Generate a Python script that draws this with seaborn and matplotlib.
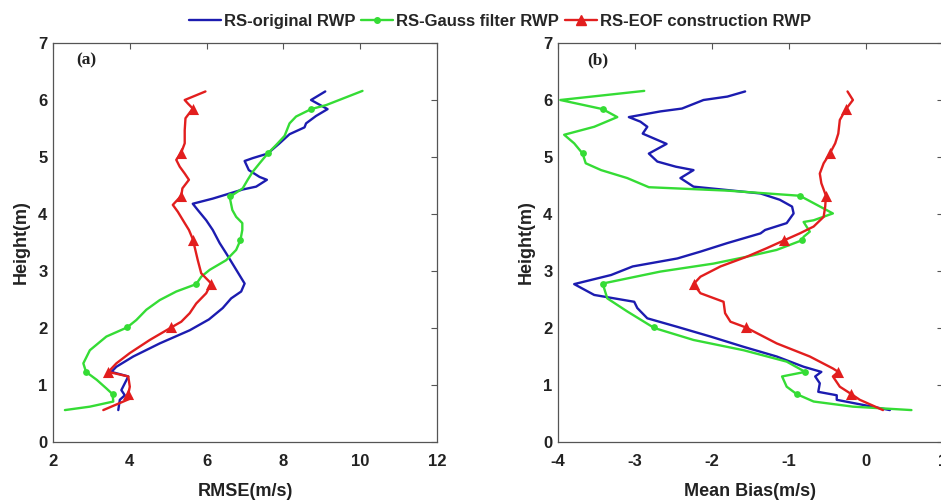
import matplotlib
matplotlib.use("Agg")
import matplotlib.pyplot as plt
from matplotlib.lines import Line2D
import seaborn as sns

# ---------------- data ----------------
# Panel (a): RMSE (m/s) vs height
h_orig_a = [6.15, 6.00, 5.84, 5.72, 5.59, 5.52, 5.40, 5.24, 5.06, 4.98, 4.93, 4.77, 4.65, 4.60,
            4.48, 4.43, 4.36, 4.27, 4.18, 4.07, 3.89, 3.72, 3.49, 3.31, 2.78, 2.64, 2.52, 2.35,
            2.15, 1.96, 1.73, 1.50, 1.32, 1.23, 1.15, 1.03, 0.91, 0.82, 0.74, 0.56]
rmse_orig = [9.09, 8.72, 9.15, 8.85, 8.59, 8.55, 8.16, 7.90, 7.59, 7.20, 6.99, 7.10, 7.38, 7.57,
             7.29, 6.94, 6.60, 6.16, 5.64, 5.77, 5.99, 6.16, 6.34, 6.51, 6.99, 6.90, 6.64, 6.42,
             6.06, 5.56, 4.78, 4.09, 3.65, 3.52, 3.96, 3.87, 3.78, 3.87, 3.74, 3.70]

h_gauss_a = [6.16, 5.91, 5.84, 5.71, 5.59, 5.47, 5.37, 5.21, 5.06, 4.89, 4.74, 4.60, 4.45, 4.30,
             4.07, 3.95, 3.84, 3.72, 3.54, 3.37, 3.19, 3.02, 2.90, 2.77, 2.64, 2.49, 2.32, 2.14,
             2.01, 1.85, 1.61, 1.38, 1.23, 1.09, 0.94, 0.84, 0.71, 0.62, 0.56]
rmse_gauss = [10.06, 9.11, 8.72, 8.33, 8.16, 8.09, 8.03, 7.81, 7.59, 7.38, 7.20, 7.07, 6.94, 6.60,
              6.67, 6.77, 6.93, 6.93, 6.88, 6.77, 6.51, 6.08, 5.86, 5.73, 5.21, 4.78, 4.43, 4.17,
              3.93, 3.39, 2.96, 2.79, 2.86, 3.14, 3.39, 3.55, 3.57, 2.96, 2.31]

h_eof_a = [6.15, 6.00, 5.94, 5.85, 5.68, 5.47, 5.24, 5.08, 4.95, 4.83, 4.71, 4.60, 4.45, 4.32,
           4.16, 4.04, 3.84, 3.72, 3.56, 3.19, 2.96, 2.78, 2.61, 2.43, 2.26, 2.11, 2.01, 1.79,
           1.56, 1.38, 1.23, 1.15, 0.97, 0.84, 0.77, 0.56]
rmse_eof = [5.97, 5.43, 5.51, 5.64, 5.45, 5.43, 5.43, 5.34, 5.21, 5.30, 5.43, 5.54, 5.37, 5.34,
            5.12, 5.25, 5.43, 5.54, 5.64, 5.77, 5.86, 6.12, 5.99, 5.73, 5.56, 5.34, 5.08, 4.52,
            4.00, 3.65, 3.44, 3.96, 4.00, 3.96, 4.04, 3.31]

mark_h = [5.85, 5.07, 4.31, 3.55, 2.78, 2.01, 1.23, 0.84]
rmse_gauss_marks = [8.72, 7.59, 6.60, 6.88, 5.73, 3.93, 2.86, 3.55]
rmse_eof_marks = [5.64, 5.34, 5.34, 5.64, 6.12, 5.08, 3.44, 3.96]

# Panel (b): mean bias (m/s) vs height
h_orig_b = [6.15, 6.06, 6.00, 5.85, 5.80, 5.70, 5.62, 5.53, 5.41, 5.23, 5.06, 4.92, 4.83, 4.77,
            4.63, 4.48, 4.42, 4.36, 4.25, 4.13, 4.01, 3.84, 3.72, 3.66, 3.49, 3.34, 3.22, 3.08,
            2.93, 2.77, 2.58, 2.46, 2.35, 2.17, 2.02, 1.85, 1.67, 1.50, 1.32, 1.23, 1.15, 1.03,
            0.88, 0.82, 0.74, 0.56]
bias_orig = [-1.57, -1.80, -2.11, -2.39, -2.67, -3.08, -2.93, -2.84, -2.90, -2.59, -2.82, -2.71,
             -2.47, -2.24, -2.41, -2.24, -1.80, -1.37, -1.12, -0.96, -0.94, -1.03, -1.31, -1.37,
             -1.80, -2.15, -2.45, -3.03, -3.31, -3.79, -3.53, -3.01, -2.97, -2.84, -2.45, -2.02,
             -1.59, -1.16, -0.81, -0.58, -0.66, -0.60, -0.62, -0.38, -0.38, 0.31]

h_gauss_b = [6.16, 6.00, 5.84, 5.70, 5.53, 5.39, 5.24, 5.06, 4.89, 4.77, 4.63, 4.47, 4.41, 4.32,
             4.01, 3.89, 3.86, 3.69, 3.60, 3.54, 3.37, 3.25, 3.13, 2.99, 2.78, 2.52, 2.29, 2.00,
             1.79, 1.61, 1.41, 1.23, 1.15, 0.97, 0.84, 0.71, 0.62, 0.56]
bias_gauss = [-2.88, -3.97, -3.42, -3.23, -3.53, -3.92, -3.79, -3.68, -3.64, -3.44, -3.10, -2.82,
              -1.80, -0.86, -0.43, -0.68, -0.81, -0.73, -0.81, -0.83, -1.16, -1.55, -1.98, -2.67,
              -3.42, -3.36, -3.10, -2.75, -2.24, -1.59, -1.03, -0.79, -1.09, -1.03, -0.90, -0.68,
              -0.17, 0.59]

h_eof_b = [6.15, 6.00, 5.84, 5.65, 5.41, 5.24, 5.06, 4.89, 4.71, 4.54, 4.32, 4.13, 3.95, 3.78,
           3.66, 3.54, 3.40, 3.25, 3.08, 2.90, 2.77, 2.61, 2.46, 2.26, 2.11, 2.01, 1.73, 1.50,
           1.29, 1.23, 1.15, 0.97, 0.84, 0.74, 0.56]
bias_eof = [-0.24, -0.17, -0.26, -0.34, -0.36, -0.40, -0.47, -0.55, -0.60, -0.58, -0.52, -0.53,
            -0.55, -0.68, -0.86, -1.06, -1.29, -1.55, -1.89, -2.15, -2.24, -2.15, -1.85, -1.83,
            -1.76, -1.56, -1.16, -0.73, -0.43, -0.36, -0.43, -0.34, -0.19, -0.08, 0.22]

bias_gauss_marks = [-3.42, -3.68, -0.86, -0.83, -3.42, -2.75, -0.79, -0.90]
bias_eof_marks = [-0.26, -0.47, -0.52, -1.06, -2.24, -1.56, -0.36, -0.19]

series_labels = ["RS-original RWP", "RS-Gauss filter RWP", "RS-EOF construction RWP"]
x_ticks_a = [2, 4, 6, 8, 10, 12]
x_ticks_b = [-4, -3, -2, -1, 0, 1]
y_ticks = [0, 1, 2, 3, 4, 5, 6, 7]

# ---------------- styling ----------------
sns.set_theme(style="white")
plt.rcParams['font.family'] = ['Liberation Sans', 'DejaVu Sans']
plt.rcParams['font.weight'] = 'bold'
plt.rcParams['axes.labelweight'] = 'bold'

BLUE = '#1c1cb0'
GREEN = '#35dc35'
RED = '#e21e1e'
LW = 1.7
TXT = '#222222'
SPINE = '#555555'

fig = plt.figure(figsize=(9.41, 5.01), dpi=100)
ax1 = fig.add_axes([53 / 941, 59 / 501, 384 / 941, 399 / 501])
ax2 = fig.add_axes([558 / 941, 59 / 501, 385 / 941, 399 / 501])


def draw(ax, xo, ho, xg, hg, xe, he, xgm, xem):
    sns.lineplot(x=xo, y=ho, sort=False, estimator=None, color=BLUE, lw=LW, ax=ax, zorder=2)
    sns.lineplot(x=xg, y=hg, sort=False, estimator=None, color=GREEN, lw=LW, ax=ax, zorder=3)
    sns.scatterplot(x=xgm, y=mark_h, color=GREEN, marker='o', s=24, edgecolor=GREEN,
                    linewidth=0, ax=ax, zorder=3)
    sns.lineplot(x=xe, y=he, sort=False, estimator=None, color=RED, lw=LW, ax=ax, zorder=4)
    sns.scatterplot(x=xem, y=mark_h, color=RED, marker='^', s=64, edgecolor=RED,
                    linewidth=0, ax=ax, zorder=4)


draw(ax1, rmse_orig, h_orig_a, rmse_gauss, h_gauss_a, rmse_eof, h_eof_a,
     rmse_gauss_marks, rmse_eof_marks)
draw(ax2, bias_orig, h_orig_b, bias_gauss, h_gauss_b, bias_eof, h_eof_b,
     bias_gauss_marks, bias_eof_marks)

for ax, xt, xl, tag, tx in [(ax1, x_ticks_a, "RMSE(m/s)", "(a)", 0.088),
                            (ax2, x_ticks_b, "Mean Bias(m/s)", "(b)", 0.104)]:
    ax.set_xlim(xt[0], xt[-1])
    ax.set_ylim(0, 7)
    ax.set_xticks(xt)
    ax.set_yticks(y_ticks)
    ax.set_xticklabels([str(v) for v in xt])
    ax.tick_params(direction='in', top=True, right=True, length=4, width=0.8,
                   color=SPINE, labelcolor=TXT, labelsize=12)
    ax.tick_params(axis='x', pad=8.5)
    ax.tick_params(axis='y', pad=4)
    for s in ax.spines.values():
        s.set_color(SPINE)
        s.set_linewidth(0.9)
    ax.set_xlabel(xl, fontsize=13, fontweight='bold', color=TXT, labelpad=10)
    ax.set_ylabel("Height(m)", fontsize=13, fontweight='bold', color=TXT)
    ax.yaxis.set_label_coords(-0.060, 0.5)
    ax.text(tx, 0.957, tag, transform=ax.transAxes, ha='center', va='center',
            family=['Liberation Serif'], fontweight='bold', fontsize=12.5, color=TXT)
    ax.grid(False)

handles = [
    Line2D([], [], color=BLUE, lw=LW),
    Line2D([], [], color=GREEN, lw=LW, marker='o', markersize=4),
    Line2D([], [], color=RED, lw=LW, marker='^', markersize=6.5),
]
fig.legend(handles, series_labels, loc='center', bbox_to_anchor=(500 / 941, 1 - 21.5 / 501),
           ncol=3, frameon=False, handlelength=1.9, handletextpad=0.2, columnspacing=0.35,
           numpoints=1, borderpad=0.2, prop={'weight': 'bold', 'size': 12})

fig.savefig("out.png", dpi=100, facecolor='white')
